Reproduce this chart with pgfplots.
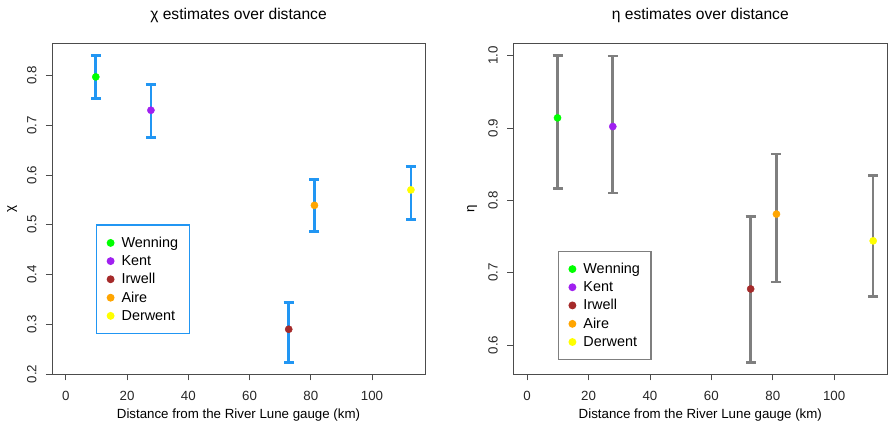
\documentclass[border=0pt]{standalone}
\usepackage{fontspec}
\setmainfont{Liberation Sans}
\usepackage{pgfplots}
\pgfplotsset{compat=1.18}
\definecolor{errblue}{HTML}{2196F3}
\definecolor{errgray}{HTML}{7F7F7F}
\definecolor{cwenning}{HTML}{00FF00}
\definecolor{ckent}{HTML}{A020F0}
\definecolor{cirwell}{HTML}{A52A2A}
\definecolor{caire}{HTML}{FFA500}
\definecolor{cderwent}{HTML}{FFFF00}
\newcommand{\tickfont}{\fontsize{13.3}{15}\selectfont}
\newcommand{\legfont}{\fontsize{14.4}{16}\selectfont}

\pgfplotsset{
  rpanel/.style={
    scale only axis,
    xmin=-4.5, xmax=117.3,
    xtick={0,20,40,60,80,100},
    /pgf/number format/assume math mode=true,
    tick label style={font=\tickfont, text=black!85},
    label style={font=\tickfont},
    title style={font=\fontsize{15.6}{18}\selectfont, at={(0.5,1)}, yshift=11pt, anchor=south},
    axis line style={line width=0.8pt, draw=black!70},
    tick style={line width=0.8pt, draw=black!70},
    tick align=outside,
    major tick length=6pt,
    xtick pos=bottom, ytick pos=left,
    yticklabel style={rotate=90, anchor=south},
    yticklabel shift=6pt,
    xticklabel shift=7pt,
    xlabel style={at={(axis description cs:0.5,0)}, anchor=north, yshift=-31pt},
    legend cell align=left,
    legend image code/.code={
      \path[draw=none, fill=none] (0pt,0pt) rectangle (20pt,0pt);
      \draw[mark=*, mark size=3.3pt] plot coordinates {(11pt,0pt)};},
    error bars/y dir=both, error bars/y explicit,
  },
  pt/.style={only marks, mark=*, mark size=3.6pt, color=#1, mark options={draw=#1, fill=#1}},
}

\begin{document}
\begin{tikzpicture}

% left panel: chi
\begin{axis}[rpanel,
  anchor=south west, at={(52pt,51.7pt)}, width=373pt, height=331pt,
  ymin=0.1995, ymax=0.8645,
  ytick={0.2,0.3,0.4,0.5,0.6,0.7,0.8},
  yticklabel style={/pgf/number format/fixed, /pgf/number format/precision=1},
  title={χ estimates over distance},
  xlabel={Distance from the River Lune gauge (km)},
  ylabel={χ},
  ylabel style={at={(axis description cs:-0.107,0.5)}, anchor=center},
  error bars/error bar style={line width=2.8pt, draw=errblue},
  error bars/error mark options={rotate=90, line width=2.8pt, draw=errblue, mark size=5pt},
  legend style={at={(rel axis cs:0.118,0.453)}, anchor=north west, draw=errblue, line width=1.2pt,
    font=\legfont, row sep=2.5pt, inner xsep=3pt, inner ysep=10pt},
]
\addplot[pt=cwenning] coordinates {(9.8,0.797) += (0,0.043) -= (0,0.043)};
\addplot[pt=ckent] coordinates {(27.8,0.730) += (0,0.052) -= (0,0.054)};
\addplot[pt=cirwell] coordinates {(72.8,0.290) += (0,0.054) -= (0,0.066)};
\addplot[pt=caire] coordinates {(81.2,0.539) += (0,0.052) -= (0,0.052)};
\addplot[pt=cderwent] coordinates {(112.7,0.570) += (0,0.047) -= (0,0.059)};
\legend{Wenning\rule{6pt}{0pt},Kent,Irwell,Aire,Derwent}
\end{axis}

% right panel: eta
\begin{axis}[rpanel,
  anchor=south west, at={(513.3pt,51.7pt)}, width=374pt, height=331pt,
  ymin=0.5595, ymax=1.0171,
  ytick={0.6,0.7,0.8,0.9,1.0},
  yticklabel style={/pgf/number format/fixed, /pgf/number format/fixed zerofill, /pgf/number format/precision=1},
  title={η estimates over distance},
  xlabel={Distance from the River Lune gauge (km)},
  ylabel={η},
  ylabel style={at={(axis description cs:-0.110,0.5)}, anchor=center},
  error bars/error bar style={line width=2.6pt, draw=errgray},
  error bars/error mark options={rotate=90, line width=2.6pt, draw=errgray, mark size=5pt},
  legend style={at={(rel axis cs:0.119,0.374)}, anchor=north west, draw=errgray, line width=1.2pt,
    font=\legfont, row sep=2.5pt, inner xsep=3pt, inner ysep=10pt},
]
\addplot[pt=cwenning] coordinates {(9.9,0.914) += (0,0.086) -= (0,0.098)};
\addplot[pt=ckent] coordinates {(27.9,0.902) += (0,0.0975) -= (0,0.092)};
\addplot[pt=cirwell] coordinates {(72.8,0.6775) += (0,0.1005) -= (0,0.102)};
\addplot[pt=caire] coordinates {(81.2,0.781) += (0,0.083) -= (0,0.094)};
\addplot[pt=cderwent] coordinates {(112.7,0.744) += (0,0.090) -= (0,0.077)};
\legend{Wenning\rule{6pt}{0pt},Kent,Irwell,Aire,Derwent}
\end{axis}

\pgfresetboundingbox
\path[use as bounding box] (0pt,0pt) rectangle (888pt,426pt);
\end{tikzpicture}
\end{document}
